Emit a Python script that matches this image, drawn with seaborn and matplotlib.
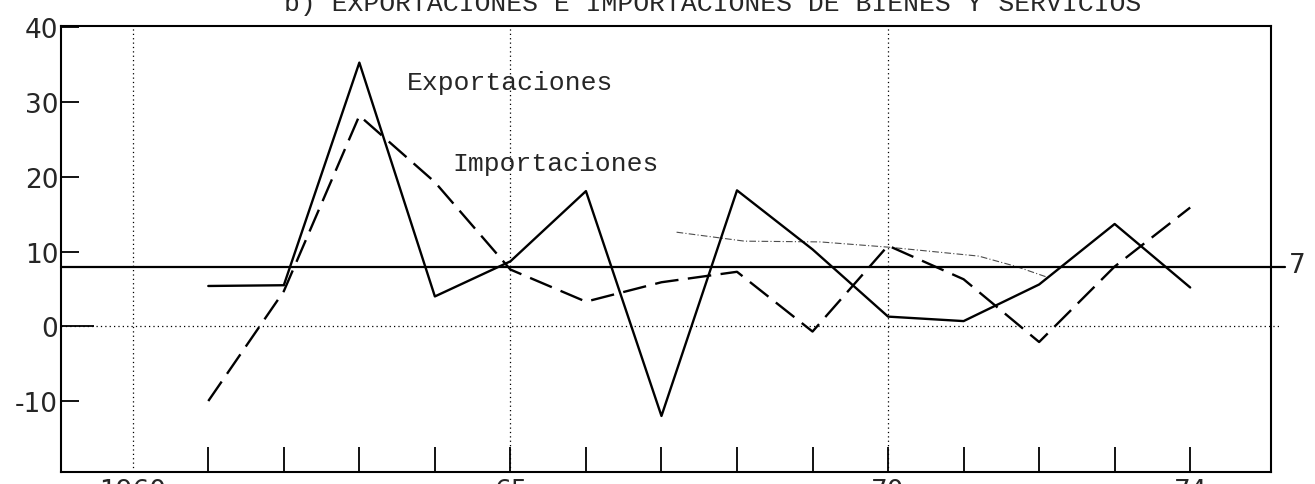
import matplotlib
matplotlib.use("Agg")
import matplotlib.pyplot as plt
import pandas as pd
import seaborn as sns

# %% data
anios = list(range(1961, 1975))
exportaciones = [5.4, 5.5, 35.3, 4.0, 8.7, 18.1, -12.0, 18.2, 10.3, 1.3, 0.7, 5.6, 13.7, 5.2]
importaciones = [-10.0, 4.7, 28.2, 19.3, 7.6, 3.3, 5.9, 7.3, -0.7, 10.8, 6.3, -2.1, 8.0, 15.9]

# faint hand-drawn trend line over the later years
tendencia_x = [1967.2, 1968.1, 1969.1, 1970.0, 1971.2, 1971.7, 1972.1]
tendencia_y = [12.6, 11.4, 11.3, 10.6, 9.4, 8.0, 6.6]

promedio = 7.9  # horizontal reference line labelled "7"
y_ticks = [-10, 0, 10, 20, 30, 40]
x_labels = {1960: "1960", 1965: "65", 1970: "70", 1974: "74"}
x_grid = [1960, 1965, 1970]

titulo = "b) EXPORTACIONES E IMPORTACIONES DE BIENES Y SERVICIOS"

df = pd.DataFrame({"anio": anios, "exp": exportaciones, "imp": importaciones})

# %% figure
sns.set_theme(style="white")
plt.rcParams["font.family"] = ["DejaVu Sans"]
mono = ["Liberation Mono", "DejaVu Sans Mono"]

W, H = 1315, 485
fig = plt.figure(figsize=(W / 100, H / 100), dpi=100)
ax = fig.add_axes([61 / W, 1 - 473 / H, (1271 - 61) / W, (473 - 27) / H])

x0, x1 = 1959.05, 1975.07
ax.set_xlim(x0, x1)
ax.set_ylim(-19.5, 40.2)

# dotted grid
for g in x_grid:
    ax.axvline(g, color="black", lw=0.9, ls=(0, (1, 2.5)), zorder=1)
ax.plot([x0, 1975.2], [0, 0], color="black", lw=0.9, ls=(0, (1, 2.5)),
        clip_on=False, zorder=1)

# reference line "7"
ax.plot([x0, 1975.25], [promedio, promedio], color="black", lw=1.6,
        clip_on=False, zorder=2)
ax.text(1975.42, promedio + 0.3, "7", fontsize=19, ha="center", va="center",
        clip_on=False)

# series
sns.lineplot(data=df, x="anio", y="exp", color="black", lw=1.7, ax=ax, zorder=3)
sns.lineplot(data=df, x="anio", y="imp", color="black", lw=1.7,
             linestyle=(0, (10, 4)), ax=ax, zorder=3)
sns.lineplot(x=tendencia_x, y=tendencia_y, color="black", lw=0.8, alpha=0.7,
             linestyle=(0, (6, 2, 1, 2)), ax=ax, zorder=2)

ax.text(1964.99, 32.7, "Exportaciones", family=mono,
        fontsize=19, ha="center", va="center")
ax.text(1965.6, 21.8, "Importaciones", family=mono,
        fontsize=19, ha="center", va="center")

fig.text(713 / W, 1 - 11 / H, titulo, family=mono, fontsize=19,
         ha="center", va="baseline")

# axes styling
for s in ax.spines.values():
    s.set_color("black")
    s.set_linewidth(1.5)
ax.set_xlabel("")
ax.set_ylabel("")

ax.set_xticks(list(range(1960, 1975)))
ax.set_xticklabels([x_labels.get(a, "") for a in range(1960, 1975)], fontsize=19)
ax.tick_params(axis="x", direction="in", length=18, width=1.3, pad=4,
               bottom=True, color="black")
ax.xaxis.get_major_ticks()[0].tick1line.set_visible(False)

ax.set_yticks(y_ticks)
ax.set_yticklabels([str(v) for v in y_ticks], fontsize=19)
ax.tick_params(axis="y", direction="in", length=13, width=1.3, pad=2,
               left=True, color="black")
ax.yaxis.get_major_ticks()[1].tick1line.set_markersize(24)

fig.savefig("out.png", dpi=100)
